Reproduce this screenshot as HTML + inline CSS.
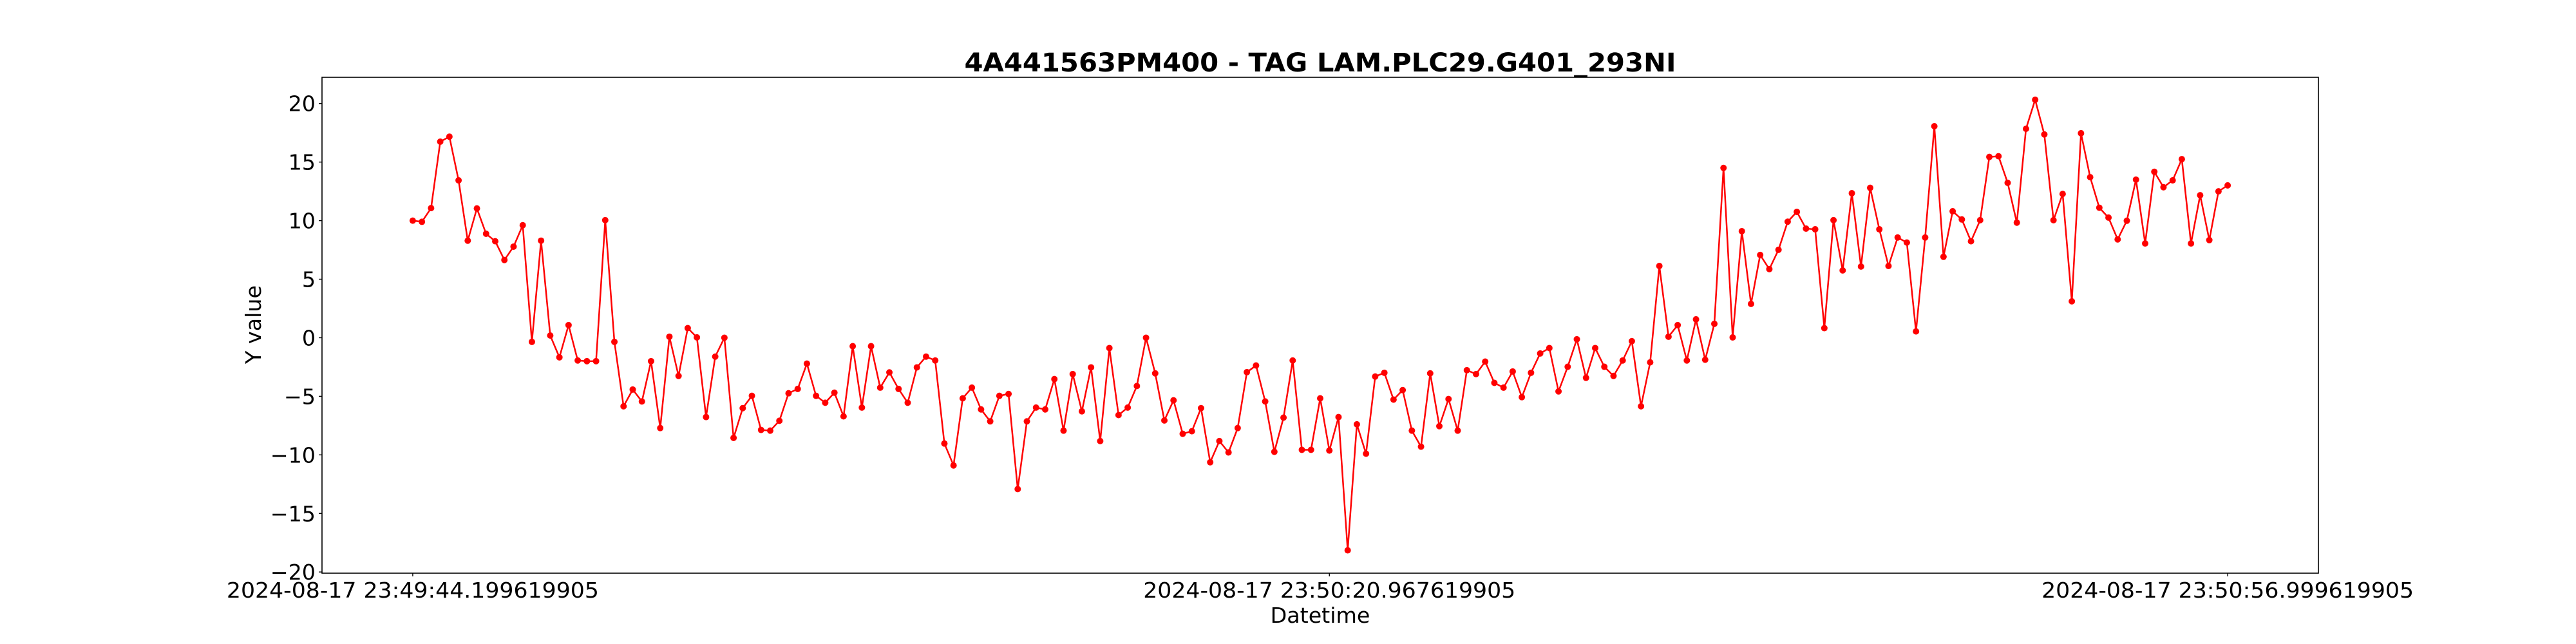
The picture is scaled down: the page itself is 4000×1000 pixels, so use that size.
<!DOCTYPE html>
<html>
<head>
<meta charset="utf-8">
<style>
  html, body { margin: 0; padding: 0; background: #fff; }
  svg { display: block; }
  text { font-family: "DejaVu Sans", "Liberation Sans", sans-serif; fill: #000; }
</style>
</head>
<body>
<svg id="chart" width="4000" height="1000" viewBox="0 0 4000 1000" xmlns="http://www.w3.org/2000/svg">
  <rect x="0" y="0" width="4000" height="1000" fill="#fff"/>
  <text x="2050" y="111" text-anchor="middle" font-size="40" font-weight="bold" textLength="1105" lengthAdjust="spacingAndGlyphs">4A441563PM400 - TAG LAM.PLC29.G401_293NI</text>
  <g id="plot"></g>
  <g id="yaxis"></g>
  <g id="xaxis"></g>
  <rect x="500" y="120" width="3100" height="770" fill="none" stroke="#000" stroke-width="1.6"/>
  <text x="2050" y="967" text-anchor="middle" font-size="33.3">Datetime</text>
  <text x="0" y="0" text-anchor="middle" font-size="33.3" transform="translate(405,504) rotate(-90)">Y value</text>
</svg>
<script>
// ---- data ----
const yValues = [
10.0,9.9,11.07,16.74,17.17,13.44,8.29,11.04,8.88,8.24,6.64,7.78,9.61,-0.35,8.29,0.19,-1.67,1.08,-1.94,-2.0,-2.0,10.04,-0.35,-5.85,-4.42,-5.44,-2.0,-7.71,0.09,-3.26,0.82,0.03,-6.77,-1.61,
0.0,-8.55,-6.01,-4.96,-7.87,-7.93,-7.09,-4.74,-4.37,-2.21,-4.96,-5.55,-4.69,-6.71,-0.72,-5.96,-0.72,-4.26,-2.96,-4.37,-5.55,-2.53,-1.61,-1.94,-9.03,-10.9,-5.17,-4.26,-6.12,-7.14,-4.96,-4.8,-12.92,-7.14,-5.96,-6.12,
-3.53,-7.93,-3.1,-6.28,-2.53,-8.82,-0.88,-6.6,-5.96,-4.12,0.0,-3.04,-7.06,-5.34,-8.2,-7.98,-6.01,-10.63,-8.82,-9.79,-7.71,-2.94,-2.37,-5.44,-9.74,-6.82,-1.94,-9.57,-9.57,-5.17,-9.63,-6.77,-18.15,-7.39,-9.9,-3.31,
-2.99,-5.28,-4.47,-7.93,-9.3,-3.04,-7.55,-5.23,-7.93,-2.77,-3.1,-2.04,-3.85,-4.26,-2.88,-5.07,-2.99,-1.34,-0.88,-4.58,-2.48,-0.13,-3.42,-0.88,-2.48,-3.26,-1.94,-0.29,-5.85,-2.1,6.13,0.09,1.08,-1.94,1.57,-1.88,
1.19,14.5,0.03,9.1,2.89,7.07,5.86,7.51,9.91,10.75,9.32,9.26,0.82,10.04,5.75,12.34,6.08,12.8,9.26,6.13,8.56,8.13,0.54,8.56,18.06,6.91,10.8,10.1,8.24,10.04,15.44,15.5,13.23,9.83,17.84,20.32,
17.36,10.04,12.28,3.11,17.46,13.71,11.1,10.26,8.4,9.99,13.5,8.05,14.17,12.85,13.44,15.25,8.05,12.17,8.34,12.5,13.01
];
const totalSeconds = 72.8; // span from first to last sample
const xTickSeconds = [0, 36.768, 72.8];
const xTickLabels = ["2024-08-17 23:49:44.199619905", "2024-08-17 23:50:20.967619905", "2024-08-17 23:50:56.999619905"];
const yTickValues = [-20, -15, -10, -5, 0, 5, 10, 15, 20];
const yTickLabels = ["\u221220", "\u221215", "\u221210", "\u22125", "0", "5", "10", "15", "20"];

// ---- scales ----
const L = 500, R = 3600, T = 120, B = 890;
const yMin = -20.1, yMax = 22.24;
const n = yValues.length;
const tOf = i => i * totalSeconds / (n - 1);
const pad = totalSeconds * 0.05;
const xScale = t => L + (t + pad) / (totalSeconds + 2 * pad) * (R - L);
const yScale = v => B - (v - yMin) / (yMax - yMin) * (B - T);
const NS = "http://www.w3.org/2000/svg";

const plot = document.getElementById('plot');
const pts = yValues.map((v, i) => xScale(tOf(i)).toFixed(2) + ',' + yScale(v).toFixed(2)).join(' ');
const line = document.createElementNS(NS, 'polyline');


line.setAttribute('points', pts);
line.setAttribute('fill', 'none');
line.setAttribute('stroke', '#ff0000');
line.setAttribute('stroke-width', '2.5');
line.setAttribute('stroke-linejoin', 'round');
plot.appendChild(line);
yValues.forEach((v, i) => {
  const c = document.createElementNS(NS, 'circle');
  
  
  c.setAttribute('cx', xScale(tOf(i)).toFixed(2));
  c.setAttribute('cy', yScale(v).toFixed(2));
  c.setAttribute('r', '5');
  c.setAttribute('fill', '#ff0000');
  plot.appendChild(c);
});

const yaxis = document.getElementById('yaxis');
yTickValues.forEach((v, i) => {
  const y = yScale(v);
  const tk = document.createElementNS(NS, 'line');
  
  
  tk.setAttribute('x1', L - 5); tk.setAttribute('x2', L);
  tk.setAttribute('y1', y); tk.setAttribute('y2', y);
  tk.setAttribute('stroke', '#000'); tk.setAttribute('stroke-width', '1.4');
  yaxis.appendChild(tk);
  const tx = document.createElementNS(NS, 'text');
  
  
  tx.setAttribute('x', L - 10);
  tx.setAttribute('y', y + 12);
  tx.setAttribute('text-anchor', 'end');
  tx.setAttribute('font-size', '33.3');
  tx.textContent = yTickLabels[i];
  yaxis.appendChild(tx);
});

const xaxis = document.getElementById('xaxis');
xTickSeconds.forEach((t, i) => {
  const x = xScale(t);
  const tk = document.createElementNS(NS, 'line');
  
  
  tk.setAttribute('x1', x); tk.setAttribute('x2', x);
  tk.setAttribute('y1', B); tk.setAttribute('y2', B + 5);
  tk.setAttribute('stroke', '#000'); tk.setAttribute('stroke-width', '1.4');
  xaxis.appendChild(tk);
  const tx = document.createElementNS(NS, 'text');
  
  
  tx.setAttribute('x', x);
  tx.setAttribute('y', 928);
  tx.setAttribute('text-anchor', 'middle');
  tx.setAttribute('font-size', '33.3');
  tx.setAttribute('textLength', '578');
  tx.setAttribute('lengthAdjust', 'spacingAndGlyphs');
  tx.textContent = xTickLabels[i];
  xaxis.appendChild(tx);
});
</script>
</body>
</html>
